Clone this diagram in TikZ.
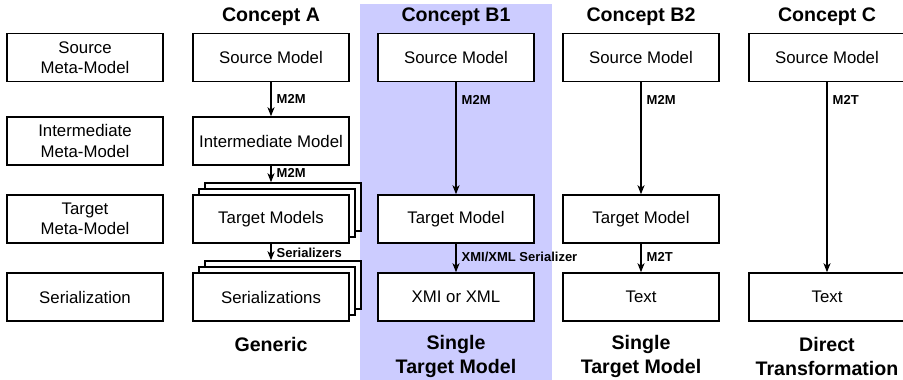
\documentclass[tikz,border=0pt]{standalone}
\usepackage{fontspec}
\setmainfont{Liberation Sans}
\usetikzlibrary{arrows.meta}
\definecolor{band}{RGB}{204,204,255}
\begin{document}
\begin{tikzpicture}[x=1pt,y=-1pt,
  box/.style={draw, line width=1.5pt, fill=white, minimum width=156pt,
    minimum height=48pt, inner sep=0pt, align=center,
    font=\fontsize{16.8}{20.5}\selectfont},
  title/.style={font=\bfseries\fontsize{19.6}{24}\selectfont, align=center, inner sep=0pt},
  lbl/.style={font=\bfseries\fontsize{13}{15}\selectfont, anchor=west, inner sep=0pt, xshift=5pt},
  flow/.style={line width=1.4pt, -{Stealth[length=9pt,width=7pt,inset=2.5pt]}}]
\useasboundingbox (0,0) rectangle (903,380);

% highlighted column for concept B1
\fill[band] (360,4) rectangle (552,380);

% meta-model levels
\node[box] (m1) at (85,57.5) {Source\\Meta-Model};
\node[box] (m2) at (85,141) {Intermediate\\Meta-Model};
\node[box] (m3) at (85,219) {Target\\Meta-Model};
\node[box] (m4) at (85,297) {Serialization};

% Concept A
\node[title] (ta) at (271,17) {Concept A};
\node[box] (a1) at (271,57.5) {Source Model};
\node[box] (a2) at (271,141) {Intermediate Model};
\node[box] (a3c) at (283,207) {};
\node[box] (a3b) at (277,213) {};
\node[box] (a3) at (271,219) {Target Models};
\node[box] (a4c) at (283,285) {};
\node[box] (a4b) at (277,291) {};
\node[box] (a4) at (271,297) {Serializations};
\node[title] (ba) at (271,344) {Generic};
\draw[flow] (a1) -- node[lbl, pos=0.5] {M2M} (a2);
\draw[flow] (a2.south) -- node[lbl, pos=0.45] {M2M} (a2.south |- a3c.north);
\draw[flow] (a3.south) -- node[lbl, pos=0.55] {Serializers} (a3.south |- a4c.north);

% Concept B1
\node[title] (tb1) at (456,17) {Concept B1};
\node[box] (b1s) at (456,57.5) {Source Model};
\node[box] (b1t) at (456,219) {Target Model};
\node[box] (b1x) at (456,297) {XMI or XML};
\node[title] (bb1) at (456,356) {Single\\Target Model};
\draw[flow] (b1s) -- node[lbl, pos=0.16] {M2M} (b1t);
\draw[flow] (b1t) -- node[lbl, pos=0.47] {XMI/XML Serializer} (b1x);

% Concept B2
\node[title] (tb2) at (641,17) {Concept B2};
\node[box] (b2s) at (641,57.5) {Source Model};
\node[box] (b2t) at (641,219) {Target Model};
\node[box] (b2x) at (641,297) {Text};
\node[title] (bb2) at (641,356) {Single\\Target Model};
\draw[flow] (b2s) -- node[lbl, pos=0.16] {M2M} (b2t);
\draw[flow] (b2t) -- node[lbl, pos=0.47] {M2T} (b2x);

% Concept C
\node[title] (tc) at (827,17) {Concept C};
\node[box] (cs) at (827,57.5) {Source Model};
\node[box] (cx) at (827,297) {Text};
\node[title] (bc) at (827,356) {Direct\\Transformation};
\draw[flow] (cs) -- node[lbl, pos=0.094] {M2T} (cx);
\end{tikzpicture}
\end{document}
